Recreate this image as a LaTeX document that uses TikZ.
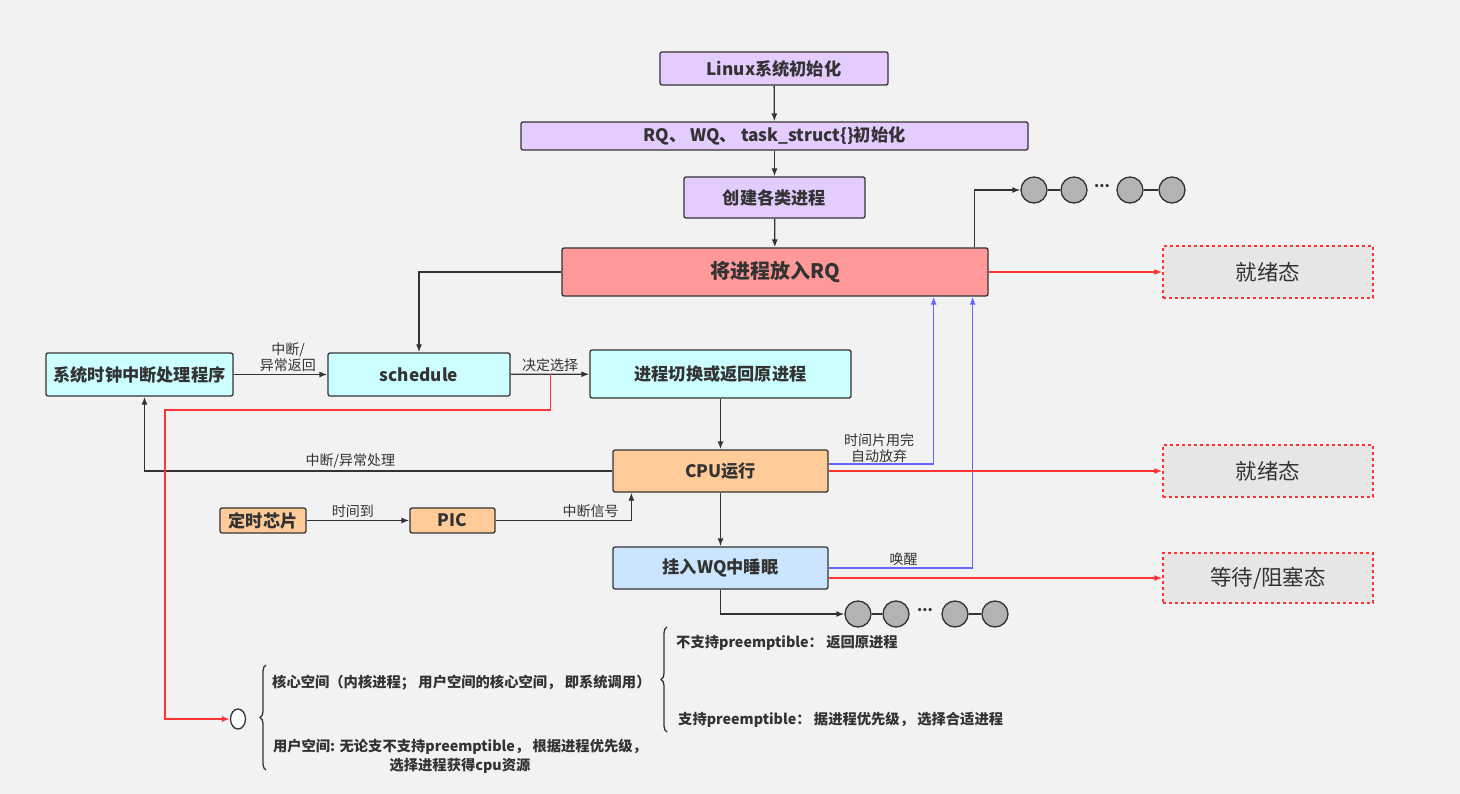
\documentclass[tikz,border=0pt]{standalone}
\usepackage{fontspec}
\setmainfont{Noto Sans CJK SC}
\usetikzlibrary{shapes.geometric,decorations.pathreplacing,arrows.meta}
\definecolor{bgc}{HTML}{F2F2F2}
\definecolor{linec}{HTML}{333333}
\definecolor{lilac}{HTML}{E5CCFF}
\definecolor{rose}{HTML}{FF9999}
\definecolor{aqua}{HTML}{CCFFFF}
\definecolor{peach}{HTML}{FFCC99}
\definecolor{sky}{HTML}{CCE5FF}
\definecolor{stgray}{HTML}{E6E6E6}
\definecolor{redl}{HTML}{FF3333}
\definecolor{bluel}{HTML}{6666FF}
\definecolor{qgray}{HTML}{B3B3B3}
\newcommand{\boxfont}{\fontsize{17.2}{20}\selectfont\bfseries}

\begin{document}
\begin{tikzpicture}[x=1pt,y=-1pt,>={Latex[length=8pt,width=6pt]},
    box/.style={draw=linec, line width=1.3pt, rounded corners=2pt, inner sep=0pt, text=linec, font=\boxfont},
    state/.style={draw=redl, dashed, line width=1.3pt, fill=stgray, minimum width=210pt, minimum height=52pt, text=linec, font=\fontsize{21.5}{25}\selectfont},
    conn/.style={draw=linec, line width=1.3pt, ->},
    redconn/.style={draw=redl, line width=1.3pt, ->},
    blueconn/.style={draw=bluel, line width=1.3pt, ->},
    lbl/.style={text=linec, font=\fontsize{14}{16}\selectfont, inner sep=2pt, align=center},
    note/.style={text=linec, font=\fontsize{14.3}{19}\selectfont\bfseries, inner sep=0pt, align=center},
    qnode/.style={circle, draw=linec, line width=1.3pt, fill=qgray, minimum size=26pt, inner sep=0pt}]
    \fill[bgc] (0,0) rectangle (1460,794);

    % Initialisation chain
    \node[box, fill=lilac, minimum width=228pt, minimum height=33pt] (init) at (774,68.5) {Linux系统初始化};
    \node[box, fill=lilac, minimum width=507pt, minimum height=28pt] (rqinit) at (774.5,136) {RQ、 WQ、 task\_struct\{\}初始化};
    \node[box, fill=lilac, minimum width=181pt, minimum height=41pt] (create) at (774.5,197.5) {创建各类进程};
    \node[box, fill=rose, minimum width=426pt, minimum height=48pt, font=\fontsize{20}{23}\selectfont\bfseries] (putrq) at (775,272) {将进程放入RQ};

    % Scheduling row
    \node[box, fill=aqua, minimum width=187pt, minimum height=43pt] (clock) at (139.5,374.5) {系统时钟中断处理程序};
    \node[box, fill=aqua, minimum width=182pt, minimum height=43pt] (sched) at (419,374.5) {schedule};
    \node[box, fill=aqua, minimum width=261pt, minimum height=48pt] (switch) at (720.5,374) {进程切换或返回原进程};
    \node[box, fill=peach, minimum width=215pt, minimum height=42pt] (cpu) at (720.5,471) {CPU运行};
    \node[box, fill=peach, minimum width=86pt, minimum height=25pt] (timer) at (263,520.5) {定时芯片};
    \node[box, fill=peach, minimum width=85pt, minimum height=25pt] (pic) at (452.5,520.5) {PIC};
    \node[box, fill=sky, minimum width=215pt, minimum height=42pt] (wq) at (720.5,568) {挂入WQ中睡眠};

    % States
    \node[state] (ready1) at (1268,272) {就绪态};
    \node[state] (ready2) at (1268,471) {就绪态};
    \node[state, minimum height=50pt] (wait) at (1268,578) {等待/阻塞态};

    % Queues
    \node[qnode] (qa1) at (1034,190) {};
    \node[qnode] (qa2) at (1074,190) {};
    \node[lbl, font=\fontsize{15}{15}\selectfont\bfseries] (qadots) at (1102,186) {...};
    \node[qnode] (qa3) at (1130,190) {};
    \node[qnode] (qa4) at (1172,190) {};
    \node[qnode] (qb1) at (858,614) {};
    \node[qnode] (qb2) at (896,614) {};
    \node[lbl, font=\fontsize{15}{15}\selectfont\bfseries] (qbdots) at (925,610) {...};
    \node[qnode] (qb3) at (955,614) {};
    \node[qnode] (qb4) at (995,614) {};
    \draw[linec, line width=1.3pt] (qa1) -- (qa2) (qa3) -- (qa4) (qb1) -- (qb2) (qb3) -- (qb4);

    % Connectors
    \draw[conn] (init) -- (rqinit);
    \draw[conn] (rqinit) -- (create);
    \draw[conn] (create) -- (putrq);
    \draw[conn] (putrq.west) -| (sched.north);
    \draw[conn] ([xshift=-14pt]putrq.north east) |- (qa1.west);
    \draw[conn] (clock) -- node[lbl, above, pos=0.58] {中断/\\异常返回} (sched);
    \draw[conn] (sched) -- coordinate[pos=0.51] (tap) node[lbl, above] {决定选择} (switch);
    \draw[conn] (switch) -- (cpu);
    \draw[conn] (cpu.west) -| node[lbl, above, pos=0.28] {中断/异常处理} ([xshift=5pt]clock.south);
    \draw[conn] (timer) -- node[lbl, above, pos=0.45] {时间到} (pic);
    \draw[conn] (pic.east) -| node[lbl, above, pos=0.35] {中断信号} ([xshift=19pt]cpu.south west);
    \draw[conn] (cpu) -- (wq);
    \draw[conn] (wq.south) |- (qb1.west);

    \draw[blueconn] ([yshift=7pt]cpu.east) -| node[lbl, above, pos=0.24, inner sep=1pt] {时间片用完\\自动放弃} ([xshift=-55pt]putrq.south east);
    \draw[blueconn] (wq.east) -| node[lbl, above, pos=0.26] {唤醒} ([xshift=-16pt]putrq.south east);

    \draw[redconn] (putrq.east) -- (ready1.west);
    \draw[redconn] (cpu.east) -- (ready2.west);
    \draw[redconn] ([yshift=-10pt]wq.east) -- (wait.west);

    % Preemption notes
    \node[ellipse, draw=linec, line width=1.3pt, fill=white, minimum width=15pt, minimum height=20pt, inner sep=0pt] (dot) at (238,719) {};
    \draw[redconn] (tap) |- (165,410) |- (dot.west);
    \draw[linec, line width=1.3pt, decorate, decoration={brace, amplitude=6pt}] (266,770) -- (266,665);
    \draw[linec, line width=1.3pt, decorate, decoration={brace, amplitude=6pt}] (667,732) -- (667,627);
    \node[note, anchor=west] (kern) at (272,683) {核心空间（内核进程； 用户空间的核心空间， 即系统调用）};
    \node[note] (user) at (460,756) {用户空间: 无论支不支持preemptible， 根据进程优先级，\\选择进程获得cpu资源};
    \node[note, anchor=west] (nopre) at (676,643) {不支持preemptible： 返回原进程};
    \node[note, anchor=west] (pre) at (678,720) {支持preemptible： 据进程优先级， 选择合适进程};
\end{tikzpicture}
\end{document}
